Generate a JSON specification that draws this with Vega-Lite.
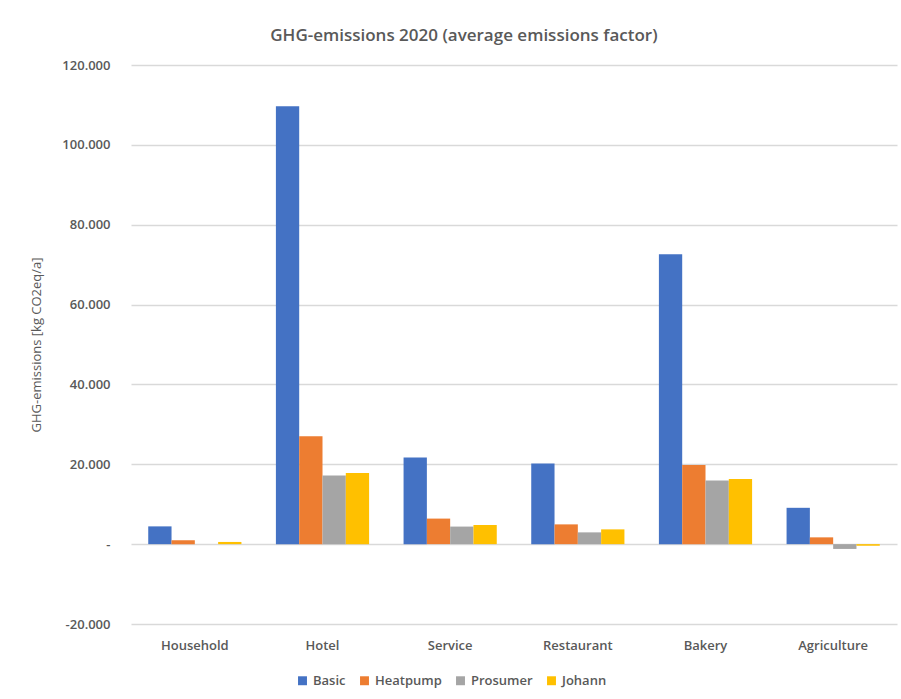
{
  "$schema": "https://vega.github.io/schema/vega-lite/v6.json",
  "autosize": {"type": "none"},
  "width": 766,
  "height": 559,
  "padding": {"left": 131, "top": 65, "right": 4, "bottom": 75},
  "background": "white",
  "config": {
    "font": "Open Sans",
    "view": {"stroke": null},
    "locale": {
      "number": {"decimal": ",", "thousands": ".", "grouping": [3], "currency": ["", ""], "minus": "-"}
    }
  },
  "title": {
    "text": "GHG-emissions 2020 (average emissions factor)",
    "frame": "bounds",
    "anchor": "middle",
    "fontSize": 17,
    "fontWeight": 600,
    "color": "#595959",
    "offset": 14
  },
  "data": {
    "values": [
      {"sector": "Household", "scenario": "Basic", "value": 4450},
      {"sector": "Household", "scenario": "Heatpump", "value": 950},
      {"sector": "Household", "scenario": "Prosumer", "value": 0},
      {"sector": "Household", "scenario": "Johann", "value": 550},
      {"sector": "Hotel", "scenario": "Basic", "value": 109700},
      {"sector": "Hotel", "scenario": "Heatpump", "value": 27000},
      {"sector": "Hotel", "scenario": "Prosumer", "value": 17200},
      {"sector": "Hotel", "scenario": "Johann", "value": 17800},
      {"sector": "Service", "scenario": "Basic", "value": 21700},
      {"sector": "Service", "scenario": "Heatpump", "value": 6400},
      {"sector": "Service", "scenario": "Prosumer", "value": 4400},
      {"sector": "Service", "scenario": "Johann", "value": 4800},
      {"sector": "Restaurant", "scenario": "Basic", "value": 20200},
      {"sector": "Restaurant", "scenario": "Heatpump", "value": 4950},
      {"sector": "Restaurant", "scenario": "Prosumer", "value": 2950},
      {"sector": "Restaurant", "scenario": "Johann", "value": 3700},
      {"sector": "Bakery", "scenario": "Basic", "value": 72600},
      {"sector": "Bakery", "scenario": "Heatpump", "value": 19800},
      {"sector": "Bakery", "scenario": "Prosumer", "value": 15950},
      {"sector": "Bakery", "scenario": "Johann", "value": 16300},
      {"sector": "Agriculture", "scenario": "Basic", "value": 9100},
      {"sector": "Agriculture", "scenario": "Heatpump", "value": 1700},
      {"sector": "Agriculture", "scenario": "Prosumer", "value": -1200},
      {"sector": "Agriculture", "scenario": "Johann", "value": -400}
    ]
  },
  "mark": {"type": "bar"},
  "encoding": {
    "x": {
      "field": "sector",
      "type": "nominal",
      "sort": ["Household", "Hotel", "Service", "Restaurant", "Bakery", "Agriculture"],
      "scale": {"paddingInner": 0.27, "paddingOuter": 0.135},
      "axis": {
        "title": null,
        "labelAngle": 0,
        "ticks": false,
        "domain": false,
        "labelPadding": 15,
        "labelFontSize": 13,
        "labelFontWeight": 600,
        "labelColor": "#595959"
      }
    },
    "xOffset": {
      "field": "scenario",
      "sort": ["Basic", "Heatpump", "Prosumer", "Johann"],
      "scale": {"paddingInner": 0, "paddingOuter": 0}
    },
    "y": {
      "field": "value",
      "type": "quantitative",
      "scale": {"domain": [-20000, 120000], "nice": false},
      "axis": {
        "title": "GHG-emissions [kg CO2eq/a]",
        "titleFontSize": 13,
        "titleFontWeight": "normal",
        "titleColor": "#595959",
        "titlePadding": 18,
        "values": [-20000, 0, 20000, 40000, 60000, 80000, 100000, 120000],
        "format": ",.0f",
        "labelExpr": "datum.value === 0 ? '-' : datum.label",
        "labelFontSize": 13,
        "labelFontWeight": 600,
        "labelColor": "#595959",
        "labelPadding": 21,
        "ticks": false,
        "domain": false,
        "gridColor": "#d9d9d9",
        "gridWidth": 1.3
      }
    },
    "color": {
      "field": "scenario",
      "type": "nominal",
      "sort": ["Basic", "Heatpump", "Prosumer", "Johann"],
      "scale": {
        "domain": ["Basic", "Heatpump", "Prosumer", "Johann"],
        "range": ["#4472C4", "#ED7D31", "#A5A5A5", "#FFC000"]
      },
      "legend": {
        "title": null,
        "orient": "none",
        "legendX": 165,
        "legendY": 609,
        "direction": "horizontal",
        "symbolType": "square",
        "symbolSize": 80,
        "symbolStrokeWidth": 0,
        "labelFontSize": 13,
        "labelFontWeight": 600,
        "labelColor": "#595959",
        "columnPadding": 12
      }
    }
  }
}
